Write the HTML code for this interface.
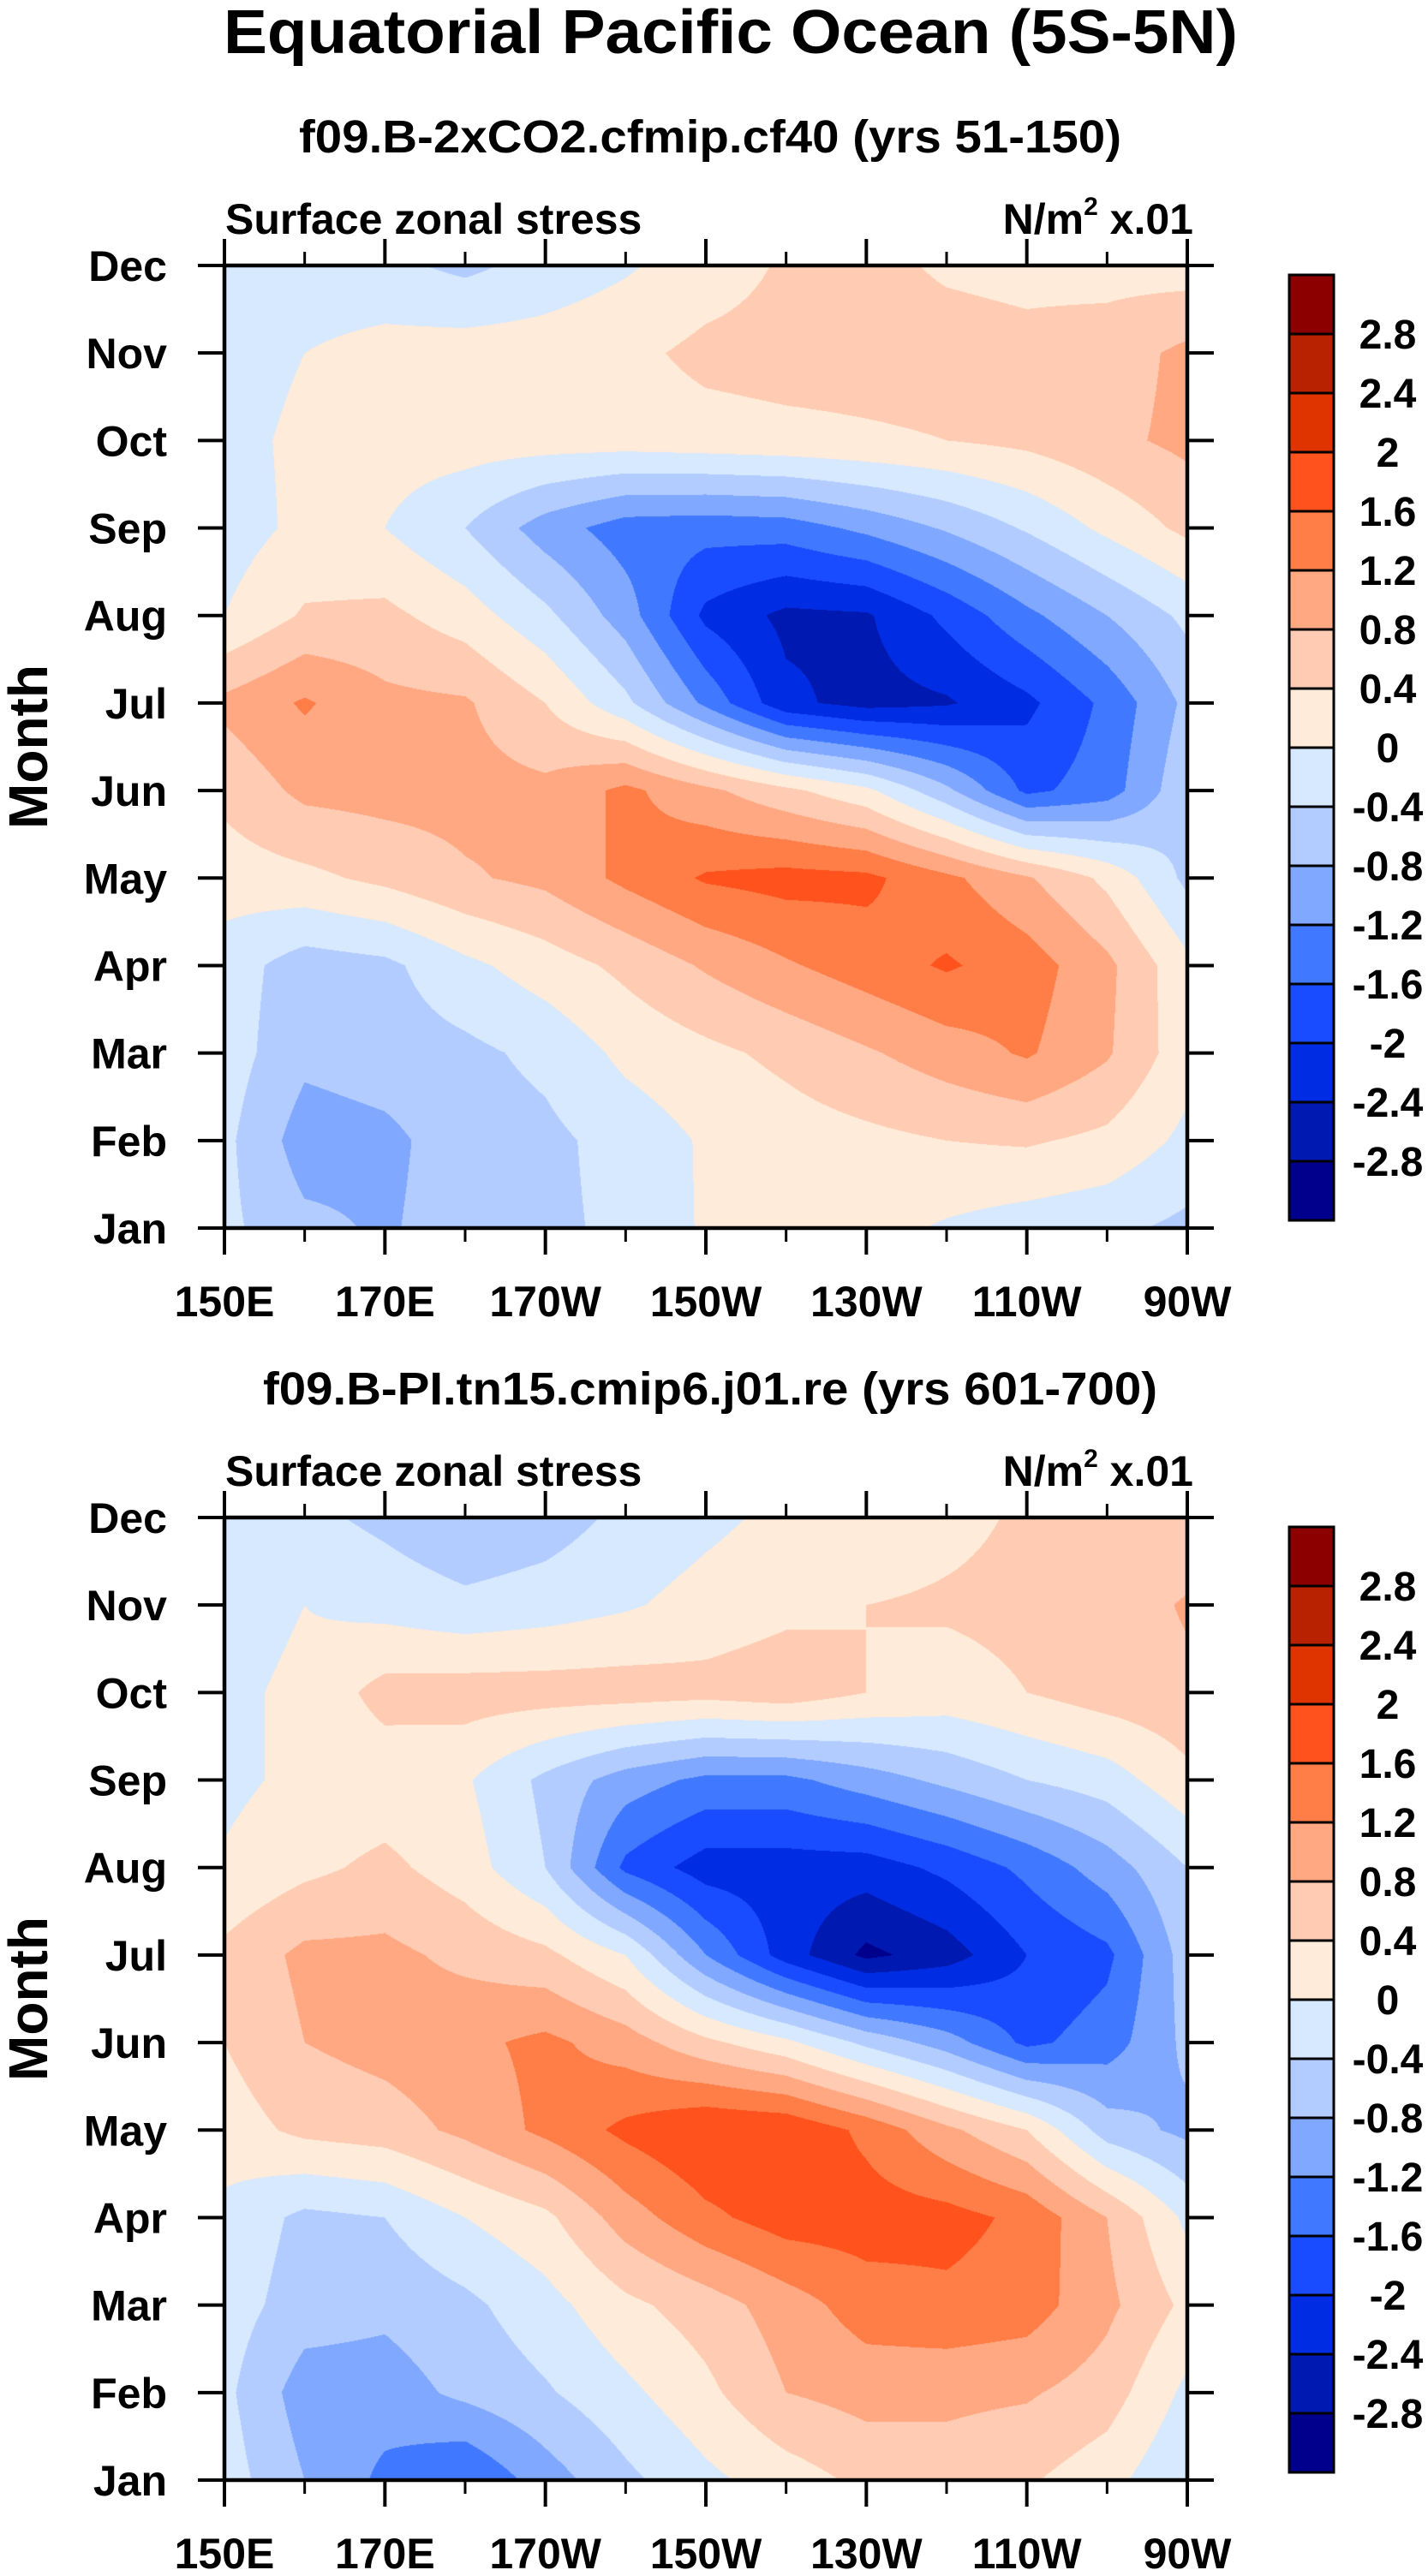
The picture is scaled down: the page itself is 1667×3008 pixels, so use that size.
<!DOCTYPE html>
<html><head><meta charset="utf-8">
<style>
html,body{margin:0;padding:0;background:#fff;}
#wrap{position:relative;width:1667px;height:3008px;overflow:hidden;font-family:"Liberation Sans",Arial,sans-serif;}
canvas{position:absolute;}
svg{position:absolute;left:0;top:0;}
text{font-family:"Liberation Sans",Arial,sans-serif;font-weight:bold;fill:#000;}
</style></head>
<body>
<div id="wrap">
<canvas id="c1" width="1124" height="1124" style="left:262px;top:310px"></canvas>
<canvas id="c2" width="1124" height="1124" style="left:262px;top:1772px"></canvas>
<svg id="svg" width="1667" height="3008" xmlns="http://www.w3.org/2000/svg">
<text x="853" y="62" font-size="72" text-anchor="middle" textLength="1184" lengthAdjust="spacingAndGlyphs">Equatorial Pacific Ocean (5S-5N)</text>
<text x="829" y="178" font-size="54" text-anchor="middle" textLength="960" lengthAdjust="spacingAndGlyphs">f09.B-2xCO2.cfmip.cf40 (yrs 51-150)</text>
<text x="829" y="1640" font-size="54" text-anchor="middle" textLength="1044" lengthAdjust="spacingAndGlyphs">f09.B-PI.tn15.cmip6.j01.re (yrs 601-700)</text>
<text x="263" y="273" font-size="50">Surface zonal stress</text>
<text x="1393" y="273" font-size="50" text-anchor="end">N/m<tspan font-size="30" dy="-22">2</tspan><tspan dy="22"> x.01</tspan></text>
<text x="263" y="1735" font-size="50">Surface zonal stress</text>
<text x="1393" y="1735" font-size="50" text-anchor="end">N/m<tspan font-size="30" dy="-22">2</tspan><tspan dy="22"> x.01</tspan></text>
<text transform="translate(55,872) rotate(-90)" font-size="64" text-anchor="middle">Month</text>
<text transform="translate(55,2334) rotate(-90)" font-size="64" text-anchor="middle">Month</text>
<g id="g1"></g>
<g id="g2"></g>
</svg>
</div>
<script>
const lons=[150,160,170,180,190,200,210,220,230,240,250,260,270];
const monthLabels=['Jan','Feb','Mar','Apr','May','Jun','Jul','Aug','Sep','Oct','Nov','Dec'];
const xTickLabels=['150E','170E','170W','150W','130W','110W','90W'];
const levels=[-2.8,-2.4,-2,-1.6,-1.2,-0.8,-0.4,0,0.4,0.8,1.2,1.6,2,2.4,2.8];
const levelLabels=['-2.8','-2.4','-2','-1.6','-1.2','-0.8','-0.4','0','0.4','0.8','1.2','1.6','2','2.4','2.8'];
const colors=['#00008c','#0019b0','#002de3','#1a4cff','#4078ff','#80a8ff','#b3ccff','#d6e9ff','#ffebd9','#ffcbb3','#ffa882','#ff7d47','#ff521c','#e03400','#b82200','#8c0000'];
// panel 1 (2xCO2), rows Jan..Dec, columns 150E..90W
const cf40Jan=[-0.3,-0.7,-0.85,-0.6,-0.5,-0.3,0.05,0.2,0.15,-0.05,-0.2,-0.3,-0.5];
const cf40Feb=[-0.3,-1.0,-0.9,-0.6,-0.5,-0.25,0.05,0.2,0.3,0.4,0.45,0.3,-0.1];
const cf40Mar=[-0.2,-0.7,-0.6,-0.5,-0.3,0.1,0.3,0.5,0.75,1.0,1.25,0.85,0.15];
const cf40Apr=[-0.2,-0.6,-0.5,-0.1,0.2,0.5,0.85,1.15,1.4,1.65,1.4,0.9,0.1];
const cf40May=[0.2,0.3,0.5,0.75,0.9,1.3,1.65,1.75,1.7,1.3,0.85,0.3,-0.5];
const cf40Jun=[0.5,0.9,0.95,0.95,0.9,1.3,0.9,0.5,0.1,-0.7,-1.7,-1.4,-0.5];
const cf40Jul=[0.9,1.25,0.9,0.85,0.4,-0.3,-1.3,-2.3,-2.55,-2.45,-2.1,-1.5,-0.7];
const cf40Aug=[0.0,0.45,0.5,0.2,-0.3,-1.0,-2.1,-2.5,-2.45,-1.9,-1.3,-0.8,-0.3];
const cf40Sep=[-0.2,0.1,0.0,-0.4,-1.0,-1.4,-1.45,-1.4,-1.1,-0.75,-0.35,0.1,0.5];
const cf40Oct=[-0.15,0.1,0.2,0.2,0.2,0.2,0.25,0.3,0.35,0.4,0.5,0.7,0.9];
const cf40Nov=[-0.2,0.0,0.15,0.2,0.2,0.3,0.5,0.55,0.55,0.55,0.5,0.6,0.9];
const cf40Dec=[-0.2,-0.25,-0.3,-0.5,-0.25,-0.05,0.2,0.45,0.5,0.35,0.3,0.25,0.2];
// panel 2 (PI control)
const piJan=[-0.2,-0.8,-1.3,-1.6,-1.0,-0.5,-0.1,0.2,0.5,0.6,0.45,0.15,-0.4];
const piFeb=[-0.3,-1.0,-1.0,-0.7,-0.45,-0.1,0.3,0.8,0.95,0.9,0.85,0.6,-0.1];
const piMar=[-0.2,-0.6,-0.7,-0.5,-0.15,0.3,0.6,1.0,1.4,1.5,1.4,0.9,0.3];
const piApr=[-0.1,-0.5,-0.4,0.0,0.3,1.0,1.5,1.8,1.8,1.75,1.5,0.8,-0.1];
const piMay=[0.2,0.5,0.6,0.9,1.3,1.7,2.0,1.95,1.5,0.9,0.4,-0.6,-0.9];
const piJun=[0.4,0.8,0.95,1.1,1.3,1.0,0.5,0.1,-0.5,-1.0,-1.7,-1.4,-0.7];
const piJul=[0.5,0.9,0.9,0.7,0.5,0.0,-1.2,-2.2,-2.9,-2.6,-2.0,-1.7,-0.6];
const piAug=[0.05,0.3,0.5,0.2,-0.4,-1.7,-2.2,-2.2,-2.2,-1.9,-1.5,-1.0,-0.4];
const piSep=[-0.1,0.1,0.15,0.05,-0.5,-1.0,-1.3,-1.3,-1.0,-0.7,-0.4,-0.2,0.3];
const piOct=[-0.1,0.1,0.55,0.6,0.6,0.6,0.55,0.65,0.4,0.25,0.4,0.6,0.7];
const piNov=[-0.2,0.0,-0.15,-0.3,-0.2,-0.05,0.15,0.3,0.4,0.45,0.5,0.55,0.85];
const piDec=[-0.2,-0.3,-0.5,-0.75,-0.6,-0.3,-0.1,0.1,0.15,0.3,0.45,0.45,0.45];

const grid1=[cf40Jan,cf40Feb,cf40Mar,cf40Apr,cf40May,cf40Jun,cf40Jul,cf40Aug,cf40Sep,cf40Oct,cf40Nov,cf40Dec];
const grid2=[piJan,piFeb,piMar,piApr,piMay,piJun,piJul,piAug,piSep,piOct,piNov,piDec];

const PX=262, PW=1124, PH=1124;
const NS='http://www.w3.org/2000/svg';
function xScale(lon){return PX+(lon-150)/120*PW;}
function yScale(m,top){return top+PH-(m/11)*PH;}
function hex(c){return [parseInt(c.substr(1,2),16),parseInt(c.substr(3,2),16),parseInt(c.substr(5,2),16)];}
const rgb=colors.map(hex);
function bin(v){let i=0;while(i<levels.length&&v>=levels[i])i++;return i;}

function drawField(canvas,grid){
  const ctx=canvas.getContext('2d');
  const img=ctx.createImageData(PW,PH);
  const nx=lons.length-1, ny=grid.length-1;
  for(let py=0;py<PH;py++){
    const mf=(PH-0.5-py)/PH*ny;
    const j=Math.min(Math.floor(mf),ny-1), ty=mf-j;
    for(let px=0;px<PW;px++){
      const lf=(px+0.5)/PW*nx;
      const i=Math.min(Math.floor(lf),nx-1), tx=lf-i;
      const v=(grid[j][i]*(1-tx)+grid[j][i+1]*tx)*(1-ty)+(grid[j+1][i]*(1-tx)+grid[j+1][i+1]*tx)*ty;
      const c=rgb[bin(v)];
      const k=(py*PW+px)*4;
      img.data[k]=c[0];img.data[k+1]=c[1];img.data[k+2]=c[2];img.data[k+3]=255;
    }
  }
  ctx.putImageData(img,0,0);
}
drawField(document.getElementById('c1'),grid1);
drawField(document.getElementById('c2'),grid2);

function line(g,x1,y1,x2,y2,w){
  const l=document.createElementNS(NS,'line');
  l.setAttribute('x1',x1);l.setAttribute('y1',y1);l.setAttribute('x2',x2);l.setAttribute('y2',y2);
  l.setAttribute('stroke','#000');l.setAttribute('stroke-width',w);l.setAttribute('stroke-linecap','butt');
  
  
  g.appendChild(l);return l;
}
function txt(g,x,y,s,size,anchor){
  const t=document.createElementNS(NS,'text');
  t.setAttribute('x',x);t.setAttribute('y',y);t.setAttribute('font-size',size);t.setAttribute('text-anchor',anchor);
  t.textContent=s;
  
  
  g.appendChild(t);return t;
}
function axes(g,top){
  const bottom=top+PH, right=PX+PW;
  const r=document.createElementNS(NS,'rect');
  r.setAttribute('x',PX);r.setAttribute('y',top);r.setAttribute('width',PW);r.setAttribute('height',PH);
  r.setAttribute('fill','none');r.setAttribute('stroke','#000');r.setAttribute('stroke-width',4.5);
  
  
  g.appendChild(r);
  for(let m=0;m<monthLabels.length;m++){
    const y=yScale(m,top);
    line(g,PX-31,y,PX,y,4);
    line(g,right,y,right+31,y,4);
    txt(g,195,y+18,monthLabels[m],50,'end');
  }
  for(let k=0;k<lons.length;k++){
    const x=xScale(lons[k]);
    const major=(k%2===0);
    const len=major?31:16;
    line(g,x,bottom,x,bottom+len,major?4:3);
    line(g,x,top-len,x,top,major?4:3);
    if(major) txt(g,x,bottom+103,xTickLabels[k/2],50,'middle');
  }
  const cbTop=top+11, bh=69, cbX=1505, cbW=52;
  for(let b=0;b<colors.length;b++){
    const rc=document.createElementNS(NS,'rect');
    rc.setAttribute('x',cbX);rc.setAttribute('y',cbTop+(colors.length-1-b)*bh);
    rc.setAttribute('width',cbW);rc.setAttribute('height',bh);
    rc.setAttribute('fill',colors[b]);rc.setAttribute('stroke','#000');rc.setAttribute('stroke-width',3);
    
    
    g.appendChild(rc);
  }
  for(let k=0;k<levels.length;k++){
    const y=cbTop+(colors.length-1-k)*bh;
    const t=txt(g,1620,y+17,levelLabels[k],48,'middle');
    
  }
}
axes(document.getElementById('g1'),310);
axes(document.getElementById('g2'),1772);
</script>
</body></html>
